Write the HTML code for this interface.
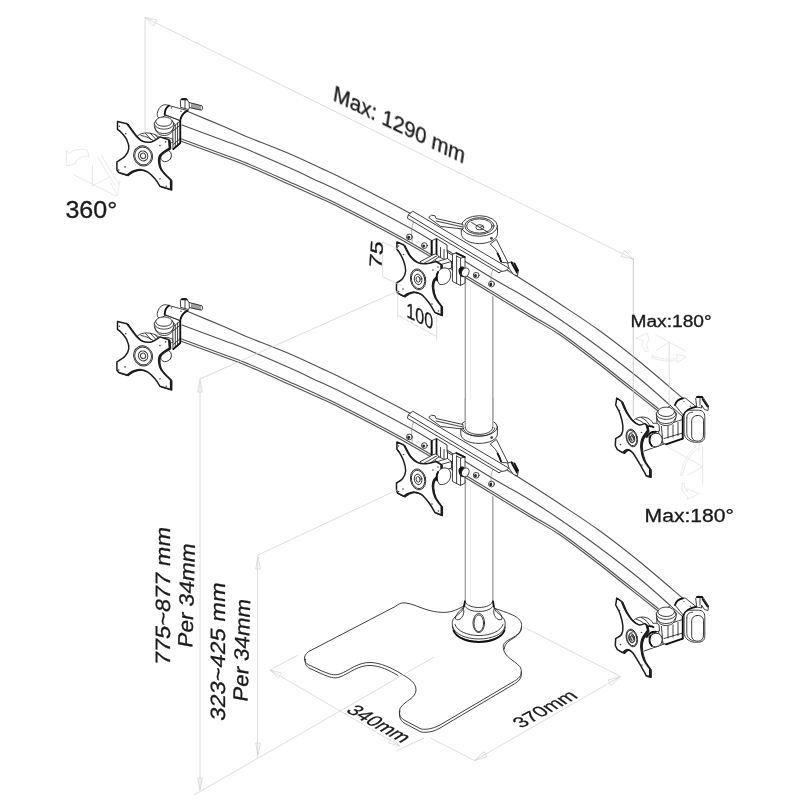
<!DOCTYPE html>
<html><head><meta charset="utf-8">
<style>
html,body{margin:0;padding:0;background:#fff;}
svg{display:block;}
text{font-family:"Liberation Sans",sans-serif;fill:#1a1a1a;stroke:#1a1a1a;stroke-width:0.3;}
.d{stroke:#d6d6d6;stroke-width:0.8;fill:none;}
.m{stroke:#2a2a2a;stroke-width:0.9;fill:none;stroke-linecap:round;stroke-linejoin:round;}
.mw{stroke:#2a2a2a;stroke-width:0.9;fill:#fff;stroke-linecap:round;stroke-linejoin:round;}
.a{stroke:#505050;stroke-width:1.1;}
.k{stroke:#111;stroke-width:1.8;fill:none;stroke-linecap:round;stroke-linejoin:round;}
.i{stroke:#e4e4e4;stroke-width:0.8;fill:none;stroke-linejoin:round;}
.g{stroke:#8a8a8a;stroke-width:0.7;fill:none;}
</style></head><body>
<svg width="800" height="800" viewBox="0 0 800 800">
<rect width="800" height="800" fill="#fff"/>
<!--DIMS-->

<!--BASE-->
<g id="base">
<path class="mw" stroke="#606060" stroke-width="1.05" d="M395.5 606.3 C398.5 604 400.5 602.8 404 602.9 C412 603.2 420 608 428 610 C436 612.5 446 613.2 452 611.3 C457 609.8 460 608 464 606 L495 608.5 C501 610.5 507 612.5 511 614.3 C516 616.3 520 619 521.3 623 C522.2 627 521 631 518 634 C515 636.8 511 638.5 507.5 640.5 C504.5 642.5 503 644.5 503.3 647.5 C503.5 651 505 653.5 507.5 656.3 C511.5 660.3 517 663 520 666.8 C522 670 521.8 674 519.5 677 C518 679 516 680 512 682.5 L440 725 C434 728 428 730 421 729 L404 720 C399 717 398 711 401 707 C405 701 416 698 416 690 C416 682 408 678 400 673 C390 667 380 663 371 662.5 C358 662 350 670 340 674 C334 676 329 674 322 671 L309 665 C303 662 303 656 308 652 Z"/>
<path class="m" stroke="#606060" stroke-width="1.0" d="M305.5 659 C304.5 664 306 666.5 310 668.5 L322 674 C329 677 334 679 340 677 C350 673 358 665 371 665.5 C380 666 389 670 398 675.5"/>
<path class="m" stroke="#606060" stroke-width="1.0" d="M400 711 C398.5 716 400 720 404 723 L421 732 C428 733 434 731.5 440 728 L512 685.3 C518 682 522.3 679 521.3 672"/>
<path class="m" stroke="#606060" stroke-width="1.0" d="M521.5 627 C521.5 634 515 637 509 641 C506 643 504.5 646 504.3 649"/>
</g>
<!--POLE-->
<g id="pole">
<path d="M465.3 279V420M465.3 480V601" stroke="#999" stroke-width="1.2" fill="none"/><path d="M492.8 296V420M492.8 496V601" stroke="#a8a8a8" stroke-width="1.5" fill="none"/>
<path d="M470.3 284V420M470.3 484V600" stroke="#ececec" stroke-width="0.8" fill="none"/>
<!-- foot -->
<path d="M464 606 C463 612 458 614 455 617 C452 620 452 623 452.5 626 C454 634 466 639 479 639 C492 639 504 634 505 626 C505.5 622 505 619.5 502 616.5 C499 613.5 494.5 612 493.8 606 L493 600 L465 600 Z" fill="#fff" stroke="none"/><path class="m" d="M465 601 L464 606 C463 612 458 614 455 617 C452 620 452 623 452.5 626 C454 634 466 639 479 639 C492 639 504 634 505 626 C505.5 622 505 619.5 502 616.5 C499 613.5 494.5 612 493.8 606 L493 601"/><path class="k" d="M465 601.5 L464 606.5 M493 601.5 L493.8 606.5" stroke-width="1.5"/>
<path class="m" d="M452.4 627 C453.5 636 466 641.5 479 641.5 C492 641.5 504.5 636 505.4 627"/>
<path class="k" d="M453.5 630.5 C456 637.5 467 642 479 642 C491 642 502 637.5 504.5 630.5" stroke-width="1.4"/>
<path class="m" d="M455 624.5 C457 631 467 635.5 479 635.5 C491 635.5 501 631 503 624.5"/>
<path class="m" d="M465 601 C465 604.5 471 607.5 478.8 607.5 C486.5 607.5 492.6 604.5 492.6 601" stroke-width="1.3"/>
<path class="m" d="M465.5 607 C468 610 473 611.5 478.8 611.5 C484.5 611.5 490 610 492.5 607"/>
<ellipse class="m" cx="478.8" cy="623" rx="5.8" ry="9.6"/>
<ellipse class="m" cx="478.8" cy="623.3" rx="4.8" ry="8.4"/>
<path class="m" d="M463 608 C459 611 455 615.5 455.5 619 C458 621 462 619 463.5 614 C464 612 464 610 463 608Z"/>
<path class="m" d="M494.5 608 C498.5 611 502.5 615.5 502 619 C499.5 621 495.5 619 494 614 C493.5 612 493.5 610 494.5 608Z"/>
</g>

<g id="topcap">
<path class="mw" d="M461.3 226 V233.5 C461.3 239 469.5 243.6 479.4 243.6 C489.3 243.6 497.5 239 497.5 233.5 V226Z"/>
<ellipse class="mw" cx="479.4" cy="226" rx="18.1" ry="10.3"/>
<ellipse class="m" cx="479.4" cy="226" rx="14.6" ry="8.3" stroke-width="1.5"/>
<ellipse class="m" cx="479.4" cy="226" rx="12.8" ry="7.1" stroke-width="0.7"/>
<ellipse class="m" cx="479.8" cy="227.3" rx="3.9" ry="2.6"/>
<path class="m" d="M471.5 222.5 L487.5 232 M480 227.3 L483 226"/>
<circle cx="491.5" cy="238.3" r="1.4" fill="#444"/>
</g>

<g id="collar">
<path class="mw" d="M460.8 427 V434 C460.8 439.5 469 443.4 479 443.4 C489 443.4 497.4 439.5 497.4 434 V427Z"/>
<ellipse class="mw" cx="479.1" cy="427" rx="18.3" ry="9.2"/>
<path d="M465 400 H492.9 V428 C492.9 431.5 487 434.3 479 434.3 C471 434.3 465 431.5 465 428Z" fill="#fff" stroke="none"/>
<path d="M465.3 398V428" stroke="#999" stroke-width="1.2" fill="none"/><path d="M492.8 398V428" stroke="#a8a8a8" stroke-width="1.5" fill="none"/>
<path class="m" d="M465.2 427.5 C465.2 431.3 471.3 434.4 479 434.4 C486.7 434.4 492.7 431.3 492.7 427.5"/>
<path class="m" d="M463.2 428 C463.8 432.6 470.5 436.2 479 436.2 C487.5 436.2 494.2 432.6 494.8 428" stroke-width="0.7"/>
<circle cx="491.7" cy="437.6" r="1.4" fill="#444"/>
</g>

<defs><g id="asm">

<!-- struts behind bar -->
<path class="mw" d="M429 217.2 L431.5 215.2 L435 215.8 L436 218.5 L463 224.5 L463 229 L441 226.5Z"/>
<path class="m" d="M436 221 L462 226.8"/>
<path class="mw" d="M490.6 243.8 L496.3 239.4 L508.2 263 L501.3 262.2 C500 258 498 253 495.5 249.5Z"/>
<path class="k" d="M497.6 253.5 C499 256 500.2 258.8 501 261.5" stroke-width="1.6"/>

<path d="M187.80 111.60 C194.00 114.17 215.47 122.95 225.00 127.00 C234.53 131.05 234.17 131.40 245.00 135.90 C255.83 140.40 277.50 148.68 290.00 154.00 C302.50 159.32 310.62 163.42 320.00 167.80 C329.38 172.18 331.57 172.90 346.25 180.30 C360.93 187.70 389.14 202.00 408.10 212.20 C427.06 222.40 441.52 230.62 460.00 241.50 C478.48 252.38 502.33 267.08 519.00 277.50 C535.67 287.92 546.50 295.08 560.00 304.00 C573.50 312.92 586.67 321.33 600.00 331.00 C613.33 340.67 626.18 350.77 640.00 362.00 C653.82 373.23 675.75 392.33 682.90 398.40 L657.80 410.80 L621.70 382.30 L599.70 364.80 L559.70 334.80 L529.70 316.80 L479.70 286.30 L409.70 244.50 L345.95 210.70 L319.70 198.00 L289.70 184.50 L244.70 164.70 L224.70 157.30 L181.20 141.30Z" fill="#fff" stroke="none"/>
<path class="m a" d="M187.80 111.60 C194.00 114.17 215.47 122.95 225.00 127.00 C234.53 131.05 234.17 131.40 245.00 135.90 C255.83 140.40 277.50 148.68 290.00 154.00 C302.50 159.32 310.62 163.42 320.00 167.80 C329.38 172.18 331.57 172.90 346.25 180.30 C360.93 187.70 389.14 202.00 408.10 212.20 C427.06 222.40 441.52 230.62 460.00 241.50 C478.48 252.38 502.33 267.08 519.00 277.50 C535.67 287.92 546.50 295.08 560.00 304.00 C573.50 312.92 586.67 321.33 600.00 331.00 C613.33 340.67 626.18 350.77 640.00 362.00 C653.82 373.23 675.75 392.33 682.90 398.40"/>
<path class="m a" d="M182.00 125.00 C189.17 127.67 214.50 137.07 225.00 141.00 C235.50 144.93 234.17 144.08 245.00 148.60 C255.83 153.12 277.50 162.52 290.00 168.10 C302.50 173.68 310.62 177.72 320.00 182.10 C329.38 186.48 330.93 186.58 346.25 194.40 C361.57 202.22 394.61 219.40 411.90 229.00 C429.19 238.60 436.65 243.83 450.00 252.00 C463.35 260.17 478.67 270.00 492.00 278.00 C505.33 286.00 518.67 293.08 530.00 300.00 C541.33 306.92 548.33 311.50 560.00 319.50 C571.67 327.50 586.67 338.08 600.00 348.00 C613.33 357.92 628.25 369.38 640.00 379.00 C651.75 388.62 665.42 401.25 670.50 405.70"/>
<path class="m a" d="M181.50 139.00 C188.75 141.67 214.42 151.10 225.00 155.00 C235.58 158.90 234.17 157.87 245.00 162.40 C255.83 166.93 277.50 176.65 290.00 182.20 C302.50 187.75 310.62 191.33 320.00 195.70 C329.38 200.07 331.25 200.65 346.25 208.40 C361.25 216.15 387.71 229.60 410.00 242.20 C432.29 254.80 460.00 271.95 480.00 284.00 C500.00 296.05 516.67 306.42 530.00 314.50 C543.33 322.58 548.33 324.50 560.00 332.50 C571.67 340.50 589.67 354.58 600.00 362.50 C610.33 370.42 612.32 372.33 622.00 380.00 C631.68 387.67 652.08 403.75 658.10 408.50"/>
<path class="m a" d="M181.20 141.30 C188.45 143.97 214.12 153.40 224.70 157.30 C235.28 161.20 233.87 160.17 244.70 164.70 C255.53 169.23 277.20 178.95 289.70 184.50 C302.20 190.05 310.32 193.63 319.70 198.00 C329.07 202.37 330.95 202.95 345.95 210.70 C360.95 218.45 387.41 231.90 409.70 244.50 C431.99 257.10 459.70 274.25 479.70 286.30 C499.70 298.35 516.37 308.72 529.70 316.80 C543.03 324.88 548.03 326.80 559.70 334.80 C571.37 342.80 589.37 356.88 599.70 364.80 C610.03 372.72 612.02 374.63 621.70 382.30 C631.38 389.97 651.78 406.05 657.80 410.80"/>

<!-- left joint -->
<path class="mw" d="M168 105.2 C163.5 103.2 158.5 106.5 157.2 113.5 C157 116 158 118 160 119 L170 112Z"/>
<path class="mw" d="M173 127 L180.3 120.8 L180.3 143 L173.3 149.2Z"/>
<path class="m" stroke="#666" stroke-width="0.7" d="M175.3 125 V147.4 M177.6 123 V145.4 M173 131 L180.3 125 M173.2 144.5 L180.3 138.5"/>
<path class="k" d="M180.3 120.8 V143 L173.3 149.2" stroke-width="1.5"/>
<path class="mw" d="M154.3 124 C154.3 131 158 135.5 164.2 135.5 C170.5 135.5 174 131 174 124Z"/>
<path class="m" d="M154.8 127.5 C156 132 159.5 133.5 164.2 133.5 C169 133.5 172.5 131.5 173.6 127.5"/>
<ellipse class="mw" cx="164.1" cy="123.6" rx="9.8" ry="5.6"/>
<ellipse class="mw" cx="164" cy="121.6" rx="8.3" ry="4.7" stroke-width="1.2"/>
<path class="mw" d="M169 105.6 L187.6 110.6 C183.5 112.5 181 116 180.2 120.7 L164.6 114.6 C164.8 110.5 166.5 107.2 169 105.6Z"/>
<path class="k" d="M169 105.6 C166.5 107.2 164.8 110.5 164.6 114.6" stroke-width="1.5"/>
<path class="k" d="M187.6 110.6 C183.5 112.5 181 116 180.2 120.7" stroke-width="1.6"/>
<path class="m" d="M164.6 114.6 L180.2 120.7"/>
<circle cx="171.5" cy="107.9" r="0.7" fill="#333"/><circle cx="181" cy="111.3" r="0.7" fill="#333"/>
<!-- clip -->
<path class="mw" d="M180.7 100 L182 98.5 L186.5 98.7 L189 102.5 L202 105.8 C203 107 202.7 109 201.5 110.2 L189.5 107.6 L188.5 109.5 L181 107.4Z" stroke-width="1.0"/>
<path class="k" d="M181.6 99.3 L186.6 99.4" stroke-width="1.8"/>
<path class="m" d="M185 99.5 L185 108.3 M189 102.5 L189.3 107.5 M192 103.5 L192 108.2 M194 104 L194 108.7 M196 104.5 L196 109.1 M198 105 L198 109.5 M200 105.5 L200 109.9" stroke-width="0.7"/>
<!-- yoke to plate -->
<path class="mw" d="M137.5 136 C140.5 133.2 145 132.5 150 133.2 C155 134 158 136 160.5 138.5 C164 137 168 137.2 172.5 139 L173 142 C168 144.5 163 145.5 159 148 L146 146Z" stroke="#161616" stroke-width="1.8"/>
<path class="m" d="M141 135.5 C146 136.2 151 138.5 155 142 M145.5 133.5 L151 139.5 M150.5 133.5 L156 139.5 M155.5 135 L160 140.5" stroke-width="0.8"/>
<!-- knob -->
<ellipse class="mw" cx="166" cy="156" rx="5.2" ry="6" transform="rotate(35 166 156)" stroke-width="1.2"/>

<path d="M117.50 129.40 L117.50 121.50 L126.90 123.75 C128.46 125.83 133.65 133.33 136.25 136.25 C138.85 139.17 140.00 140.31 142.50 141.25 C145.00 142.19 148.33 142.62 151.25 141.90 C154.17 141.18 158.54 137.73 160.00 136.90 L168.75 139.75 L169.40 148.10 C167.83 149.25 161.78 152.60 160.00 155.00 C158.22 157.40 158.54 160.00 158.75 162.50 C158.96 165.00 159.28 167.08 161.25 170.00 C163.22 172.92 169.04 178.33 170.60 180.00 L170.60 189.40 L160.00 186.25 C159.17 185.00 157.08 181.14 155.00 178.75 C152.92 176.36 150.00 173.46 147.50 171.90 C145.00 170.34 142.50 169.51 140.00 169.40 C137.50 169.29 134.68 170.32 132.50 171.25 C130.32 172.18 127.83 174.38 126.90 175.00 L118.75 172.50 L116.90 170.00 L116.90 161.90 C118.25 160.96 123.03 158.44 125.00 156.25 C126.97 154.06 128.43 151.46 128.75 148.75 C129.07 146.04 128.15 142.71 126.90 140.00 C125.65 137.29 122.82 134.27 121.25 132.50 C119.68 130.73 118.12 129.92 117.50 129.40Z" transform="translate(1.30 0.70)" fill="#1c1c1c" stroke="#1c1c1c" stroke-width="1.1" stroke-linejoin="round"/>
<path d="M117.50 129.40 L117.50 121.50 L126.90 123.75 C128.46 125.83 133.65 133.33 136.25 136.25 C138.85 139.17 140.00 140.31 142.50 141.25 C145.00 142.19 148.33 142.62 151.25 141.90 C154.17 141.18 158.54 137.73 160.00 136.90 L168.75 139.75 L169.40 148.10 C167.83 149.25 161.78 152.60 160.00 155.00 C158.22 157.40 158.54 160.00 158.75 162.50 C158.96 165.00 159.28 167.08 161.25 170.00 C163.22 172.92 169.04 178.33 170.60 180.00 L170.60 189.40 L160.00 186.25 C159.17 185.00 157.08 181.14 155.00 178.75 C152.92 176.36 150.00 173.46 147.50 171.90 C145.00 170.34 142.50 169.51 140.00 169.40 C137.50 169.29 134.68 170.32 132.50 171.25 C130.32 172.18 127.83 174.38 126.90 175.00 L118.75 172.50 L116.90 170.00 L116.90 161.90 C118.25 160.96 123.03 158.44 125.00 156.25 C126.97 154.06 128.43 151.46 128.75 148.75 C129.07 146.04 128.15 142.71 126.90 140.00 C125.65 137.29 122.82 134.27 121.25 132.50 C119.68 130.73 118.12 129.92 117.50 129.40Z" fill="#fff" stroke="#1c1c1c" stroke-width="1.5" stroke-linejoin="round"/>
<circle cx="119.40" cy="126.25" r="0.8" fill="#444"/>
<circle cx="125.60" cy="133.75" r="0.8" fill="#444"/>
<circle cx="160.00" cy="145.60" r="0.8" fill="#444"/>
<circle cx="165.60" cy="141.90" r="0.8" fill="#444"/>
<circle cx="125.00" cy="166.90" r="0.8" fill="#444"/>
<circle cx="118.75" cy="170.00" r="0.8" fill="#444"/>
<circle cx="160.00" cy="178.75" r="0.8" fill="#444"/>
<circle cx="166.25" cy="186.25" r="0.8" fill="#444"/>
<ellipse cx="143.10" cy="155.90" rx="9.40" ry="10.20" transform="rotate(-25.0 143.10 155.90)" class="m" stroke="#4a4a4a" stroke-width="0.8"/>
<ellipse cx="143.10" cy="155.90" rx="8.27" ry="8.98" transform="rotate(-25.0 143.10 155.90)" class="m" stroke="#4a4a4a" stroke-width="0.5"/>
<ellipse cx="143.10" cy="155.90" rx="4.70" ry="5.10" transform="rotate(-25.0 143.10 155.90)" class="m" stroke="#4a4a4a" stroke-width="0.7"/>
<ellipse cx="143.10" cy="155.90" rx="2.54" ry="2.75" transform="rotate(-25.0 143.10 155.90)" class="m" stroke="#4a4a4a" stroke-width="0.6"/>

<!-- sleeve edges + screws -->
<path class="g" d="M414 221.5 C411.5 226 411 232 412.3 242.5" stroke="#777"/>
<path class="g" d="M493.7 268.7 C491 272 490.4 277 491.5 286" stroke="#777"/>
<g class="m" stroke-width="0.8"><circle cx="409.4" cy="236.9" r="2.9"/><circle cx="424.4" cy="245.6" r="2.9"/><circle cx="476.2" cy="275.3" r="2.9"/><circle cx="491.5" cy="284" r="2.9"/></g>
<g fill="#222"><ellipse cx="408.7" cy="237.3" rx="1.4" ry="1.6"/><ellipse cx="423.7" cy="246" rx="1.4" ry="1.6"/><ellipse cx="475.5" cy="275.7" rx="1.4" ry="1.6"/><ellipse cx="490.8" cy="284.4" rx="1.4" ry="1.6"/></g>
<!-- top bar -->
<path class="mw" d="M413.1 211.4 L508.6 268 C507.5 270 505 271.6 501.5 271.3 L499 272.8 L407.4 218.2 L408.3 214.9Z"/>
<path class="m" d="M408.3 214.9 L501.5 271.3"/>
<!-- hook at right end -->
<path class="mw" d="M508 263.2 L511.5 261.8 L514.5 263.5 L518.3 270.5 L517.5 276 L513.5 274.5 L509.5 269Z" stroke-width="1.3"/>
<path class="k" d="M511.5 262.5 L517 272.5 M514.5 263.5 L518 270.5" stroke-width="1.3"/>
<!-- clamp block -->
<path class="mw" d="M431.5 240.8 L436.5 238.5 L447 245 L447 252 L456.5 257.5 L452.5 260 L452.5 264 L437.5 262.5 L431.5 257Z"/>
<path class="k" d="M436.5 239.5 L436.5 255.5 M431.8 241 L431.8 256.5" stroke-width="1.2"/>
<path class="m" d="M440.5 247.5 V257 M444 249.5 V258.5 M447.5 252 V260.5 M436.5 255.5 L447 261"/>
<!-- U link to plate -->
<path class="mw" d="M420.5 261.5 L434 254.3 C436.5 253.6 438.5 255 439 257 L426 265.8 C423.5 266.8 421 265 420.5 261.5Z" stroke="#161616" stroke-width="1.5"/>
<path class="m" d="M423.5 263.5 L437 255.8"/>
<path class="mw" d="M437.5 261.5 L447.5 258.5 L451.5 261.5 L451.5 268 L441 271Z"/>
<path class="m" d="M441 264.5 L451.5 261.5"/>
<!-- clamp bracket -->
<path class="mw" d="M452.8 254.2 L456.2 252.6 L465 256.8 L465 283 L460.5 285.5 L452.8 281.5Z" stroke-width="1.2"/>
<path class="m" d="M456.6 256 V283.5 M460.6 258.2 V285.3 M456.6 256 L460.6 258.2 L465 256.8"/>
<path class="k" d="M456.4 253.2 L464.6 257" stroke-width="1.5"/>
<!-- knob -->
<path d="M459 270.5 C459 267.5 461.5 266 464 267.5 L464 276.5 C461.5 277.5 459 274.5 459 270.5Z" fill="#111" stroke="#111" stroke-width="1"/>
<ellipse class="mw" cx="465.3" cy="272.3" rx="3.6" ry="4.6" transform="rotate(25 465.3 272.3)" stroke-width="1.1"/>

<path d="M396.90 249.40 L396.90 241.90 L403.75 245.00 C404.79 246.88 407.71 253.33 410.00 256.25 C412.29 259.17 414.79 261.25 417.50 262.50 C420.21 263.75 423.17 263.92 426.25 263.75 C429.33 263.58 434.38 261.88 436.00 261.50 L441.00 264.50 L441.00 273.50 C439.79 274.58 435.17 277.67 433.75 280.00 C432.33 282.33 432.29 284.58 432.50 287.50 C432.71 290.42 433.54 294.38 435.00 297.50 C436.46 300.62 440.21 304.79 441.25 306.25 L441.25 315.00 L435.00 312.50 C433.96 310.83 431.04 305.52 428.75 302.50 C426.46 299.48 423.75 296.17 421.25 294.40 C418.75 292.63 416.04 292.01 413.75 291.90 C411.46 291.79 409.17 293.02 407.50 293.75 C405.83 294.48 404.38 295.83 403.75 296.25 L397.50 293.00 L396.50 290.00 L396.50 283.00 C397.50 282.29 400.98 280.71 402.50 278.75 C404.02 276.79 405.39 274.17 405.60 271.25 C405.81 268.33 404.78 264.38 403.75 261.25 C402.72 258.12 400.54 254.47 399.40 252.50 C398.26 250.53 397.32 249.92 396.90 249.40Z" transform="translate(1.30 0.70)" fill="#1c1c1c" stroke="#1c1c1c" stroke-width="1.1" stroke-linejoin="round"/>
<path d="M396.90 249.40 L396.90 241.90 L403.75 245.00 C404.79 246.88 407.71 253.33 410.00 256.25 C412.29 259.17 414.79 261.25 417.50 262.50 C420.21 263.75 423.17 263.92 426.25 263.75 C429.33 263.58 434.38 261.88 436.00 261.50 L441.00 264.50 L441.00 273.50 C439.79 274.58 435.17 277.67 433.75 280.00 C432.33 282.33 432.29 284.58 432.50 287.50 C432.71 290.42 433.54 294.38 435.00 297.50 C436.46 300.62 440.21 304.79 441.25 306.25 L441.25 315.00 L435.00 312.50 C433.96 310.83 431.04 305.52 428.75 302.50 C426.46 299.48 423.75 296.17 421.25 294.40 C418.75 292.63 416.04 292.01 413.75 291.90 C411.46 291.79 409.17 293.02 407.50 293.75 C405.83 294.48 404.38 295.83 403.75 296.25 L397.50 293.00 L396.50 290.00 L396.50 283.00 C397.50 282.29 400.98 280.71 402.50 278.75 C404.02 276.79 405.39 274.17 405.60 271.25 C405.81 268.33 404.78 264.38 403.75 261.25 C402.72 258.12 400.54 254.47 399.40 252.50 C398.26 250.53 397.32 249.92 396.90 249.40Z" fill="#fff" stroke="#1c1c1c" stroke-width="1.5" stroke-linejoin="round"/>
<circle cx="398.60" cy="246.00" r="0.8" fill="#444"/>
<circle cx="403.50" cy="254.50" r="0.8" fill="#444"/>
<circle cx="433.00" cy="270.00" r="0.8" fill="#444"/>
<circle cx="438.00" cy="267.00" r="0.8" fill="#444"/>
<circle cx="403.00" cy="289.00" r="0.8" fill="#444"/>
<circle cx="398.60" cy="291.50" r="0.8" fill="#444"/>
<circle cx="432.00" cy="304.00" r="0.8" fill="#444"/>
<circle cx="438.50" cy="311.00" r="0.8" fill="#444"/>
<ellipse cx="418.10" cy="279.40" rx="7.50" ry="10.60" transform="rotate(-12.0 418.10 279.40)" class="m" stroke="#4a4a4a" stroke-width="0.8"/>
<ellipse cx="418.10" cy="279.40" rx="6.60" ry="9.33" transform="rotate(-12.0 418.10 279.40)" class="m" stroke="#4a4a4a" stroke-width="0.5"/>
<ellipse cx="418.10" cy="279.40" rx="3.75" ry="5.30" transform="rotate(-12.0 418.10 279.40)" class="m" stroke="#4a4a4a" stroke-width="0.7"/>
<ellipse cx="418.10" cy="279.40" rx="2.03" ry="2.86" transform="rotate(-12.0 418.10 279.40)" class="m" stroke="#4a4a4a" stroke-width="0.6"/>
<!-- ball -->
<path class="mw" d="M437 280 C435.5 274 439 268.5 444 268 C449 267.5 451.5 271.5 450.5 277 C449.5 282 445 285.5 440 284.5Z" stroke-width="1.1" stroke="#333"/>
<path class="k" d="M437.2 280.5 C436.2 277.5 436.6 274.5 438 272" stroke-width="1.5"/>


<!-- right joint -->
<!-- block under pivot -->
<path class="mw" d="M657 414 L670.5 405.7 L682.7 416.6 L682.7 438.6 L666 444.3 L661 442.5 L657 425Z"/>
<path class="m" stroke="#666" stroke-width="0.7" d="M668 426 V438 M673 425 V437 M678 422.5 V435.5 M661.5 426.5 L662.8 442.8 M664 438.5 L682.7 433 M664 425.5 L682.7 419.5"/>
<path class="k" d="M682.7 416.6 V438.6" stroke-width="1.5"/><path class="k" d="M682.7 438.6 L666 444.3" stroke-width="1.1"/>
<!-- pivot cylinder -->
<path class="mw" d="M656.3 414 C656.3 421 659.5 425.5 666.2 425.5 C673 425.5 676.3 421 676.3 414Z"/>
<path class="m" d="M656.8 418 C658 422 661.5 423.5 666.2 423.5 C671 423.5 674.5 421.5 675.6 418"/>
<ellipse class="mw" cx="666.2" cy="413.8" rx="9.9" ry="5.6"/>
<ellipse class="mw" cx="666.2" cy="411.8" rx="8.4" ry="4.7" stroke-width="1.2"/>
<!-- arm end sleeve -->
<path class="mw" d="M682.9 398.4 L685.1 398 L696.4 406.8 C690.5 407.5 685.5 410.5 683.5 415.4 L675 405.1 C676 401.5 679 399 682.9 398.4Z"/>
<path class="k" d="M682.9 398.4 C679 399 676 401.5 675 405.1" stroke-width="1.4"/>
<path class="k" d="M696.4 406.8 C690.5 407.5 685.5 410.5 683.5 415.4" stroke-width="1.6"/>
<circle cx="684" cy="401.6" r="0.7" fill="#333"/><circle cx="690.2" cy="406.2" r="0.7" fill="#333"/>
<!-- clip -->
<path class="mw" d="M696 398 L697.5 396.3 L702.5 396.5 L708.5 406 L708 410.5 L704.5 409.5 L701.5 405 L701.5 408 L697 407Z" stroke-width="1.1"/>
<path class="k" d="M697 397 L702.3 397.2" stroke-width="1.8"/>
<path class="k" d="M702.5 399 L707.5 406.5" stroke-width="1.4"/>
<path class="m" d="M700 397.5 V405"/>
<!-- end cap -->
<path class="mw" d="M684.1 416.5 C684.1 412.5 687 410.2 691 410.2 L698.5 410.2 C702.5 410.2 704.8 412.8 704.8 416.5 L704.8 436 C704.8 440 702.3 442.2 698.5 442.2 L693.5 442.2 C688 441 684.1 437.5 684.1 433Z" stroke-width="1.2"/>
<rect class="m" x="691.7" y="415.5" width="11.8" height="25.6" rx="5.2" ry="5.2"/>
<path class="m" d="M686.8 418 C686.8 414 689 412.2 692.5 412.2 M686.8 418 V433.5 C687 437.5 690 440 693.8 441"/>
<!-- yoke -->
<path class="mw" d="M633.5 420.5 C636 417.5 640.5 416.5 645 417.3 C649 418 651.5 420.5 653.2 423.5 C655.5 422.8 657.5 423.3 659 424.8 L659.5 431 C655 431.5 651 434 648 437.5 L641 430 C639.5 426 637 423.5 633.5 420.5Z" stroke-width="1.3"/>
<path class="m" d="M636.5 419.5 C640.5 420.3 644.5 423 647 427.5 M641.5 417.5 C645.5 419.5 648.5 422.5 650.5 427"/>
<path class="k" d="M645.5 428.5 C647.5 426 651 425.3 653.5 427.2 M646.5 437 C648.5 433.5 652 431.5 656 431.8" stroke-width="1.3"/>
<path class="m" d="M644.2 451 L664.1 444.1"/>
<!-- knob -->
<ellipse class="mw" cx="655.9" cy="440" rx="6.3" ry="6.9" transform="rotate(20 655.9 440)" stroke-width="1.2"/>
<path class="k" d="M650.3 436 C649 439.5 649.6 443.5 651.8 446" stroke-width="1.6"/>

<path d="M615.70 405.00 L616.70 398.10 L621.50 401.50 C622.18 403.08 623.77 407.78 625.60 411.00 C627.43 414.22 630.20 418.48 632.50 420.80 C634.80 423.12 637.33 424.45 639.40 424.90 C641.47 425.35 643.98 423.73 644.90 423.50 L646.30 424.90 L647.60 430.40 C646.68 431.77 643.23 435.85 642.10 438.60 C640.97 441.35 640.57 443.45 640.80 446.90 C641.03 450.35 642.02 455.63 643.50 459.30 C644.98 462.97 648.67 467.30 649.70 468.90 L649.70 476.50 L646.30 475.80 C645.15 473.73 641.70 467.30 639.40 463.40 C637.10 459.50 634.57 454.70 632.50 452.40 C630.43 450.10 628.60 449.57 627.00 449.60 C625.40 449.63 623.58 452.10 622.90 452.60 L617.40 449.60 L615.30 445.50 L615.70 438.60 C616.67 437.92 620.30 436.55 621.50 434.50 C622.70 432.45 623.13 429.73 622.90 426.30 C622.67 422.87 621.30 417.45 620.10 413.90 C618.90 410.35 616.43 406.48 615.70 405.00Z" transform="translate(1.50 0.90)" fill="#1c1c1c" stroke="#1c1c1c" stroke-width="1.1" stroke-linejoin="round"/>
<path d="M615.70 405.00 L616.70 398.10 L621.50 401.50 C622.18 403.08 623.77 407.78 625.60 411.00 C627.43 414.22 630.20 418.48 632.50 420.80 C634.80 423.12 637.33 424.45 639.40 424.90 C641.47 425.35 643.98 423.73 644.90 423.50 L646.30 424.90 L647.60 430.40 C646.68 431.77 643.23 435.85 642.10 438.60 C640.97 441.35 640.57 443.45 640.80 446.90 C641.03 450.35 642.02 455.63 643.50 459.30 C644.98 462.97 648.67 467.30 649.70 468.90 L649.70 476.50 L646.30 475.80 C645.15 473.73 641.70 467.30 639.40 463.40 C637.10 459.50 634.57 454.70 632.50 452.40 C630.43 450.10 628.60 449.57 627.00 449.60 C625.40 449.63 623.58 452.10 622.90 452.60 L617.40 449.60 L615.30 445.50 L615.70 438.60 C616.67 437.92 620.30 436.55 621.50 434.50 C622.70 432.45 623.13 429.73 622.90 426.30 C622.67 422.87 621.30 417.45 620.10 413.90 C618.90 410.35 616.43 406.48 615.70 405.00Z" fill="#fff" stroke="#1c1c1c" stroke-width="1.5" stroke-linejoin="round"/>
<circle cx="619.50" cy="410.50" r="0.8" fill="#444"/>
<circle cx="641.50" cy="432.50" r="0.8" fill="#444"/>
<circle cx="620.50" cy="444.50" r="0.8" fill="#444"/>
<circle cx="642.00" cy="465.00" r="0.8" fill="#444"/>
<ellipse cx="631.80" cy="438.00" rx="5.50" ry="9.00" transform="rotate(-14.0 631.80 438.00)" class="m" stroke="#4a4a4a" stroke-width="0.8"/>
<ellipse cx="631.80" cy="438.00" rx="4.84" ry="7.92" transform="rotate(-14.0 631.80 438.00)" class="m" stroke="#4a4a4a" stroke-width="0.5"/>
<ellipse cx="631.80" cy="438.00" rx="2.75" ry="4.50" transform="rotate(-14.0 631.80 438.00)" class="m" stroke="#4a4a4a" stroke-width="0.7"/>
<ellipse cx="631.80" cy="438.00" rx="1.49" ry="2.43" transform="rotate(-14.0 631.80 438.00)" class="m" stroke="#4a4a4a" stroke-width="0.6"/>
<path class="m" stroke="#333" stroke-width="0.9" d="M631.5 439.5 C630 437.5 631 435 632.8 435.2 C634.8 435.5 635.2 439.5 633.5 441.8 C631.8 444 629.2 442 628.8 438.5 C628.4 434.5 630.5 431.5 632.8 432"/>
</g></defs>
<use href="#asm"/>
<use href="#asm" y="200"/>
<!--TOPCAP-->
<g class="d" id="dims">
<path d="M145 17V132.5M145 17.5L633.3 259"/><path d="M633.3 258V416" stroke="#bcbcbc"/>
<path d="M200 378V791.5M257.6 555V758.5"/>
<path d="M200 379L398 291M258 555L397 490"/>
<path d="M194 795L434 657"/>
<path d="M270 670L298 655M270 670L400 746M396 751L424 738"/>
<path d="M430.4 738L474.5 760.5M474.5 760.5L620.5 676.5M521.5 626L620.5 676.5"/>
<path d="M382.7 241.5V276.7M382.7 242.2L398.5 249M382.7 276.7L401.5 285.7M397.7 292.5V317.5M436.7 315V340.5M397.7 315L436.7 336.7M669.2 342V406"/>
<path d="M145 17.5L157 20L153.5 26Z M633 259L621 256.5L624.5 250.5Z"/>
<path d="M200 380L197.7 392H202.3Z M200 790L197.7 778H202.3Z M258 557L255.7 569H260.3Z M258 755L255.7 743H260.3Z"/>
<path d="M270 670L281.5 673L278.5 678Z M400 746L388.5 743L391.5 738Z M474.5 760.5L484 751.5L487 756.8Z M620.5 676.5L611 685.2L608 680Z"/>
</g>
<g class="i" id="icons">
<!-- left 360 icon -->
<path d="M66.3 150.5 L66.3 166 L75 164 C77 158 82 155.5 89 156.5 L87.3 150 C80 148.5 73 149.5 69.5 153.5Z"/>
<path d="M92.5 165V186M92.5 186L110 176.5M73.3 174.6L117 196.5"/>
<path d="M97.8 157.1L115 186 M101.5 155.5L119 184.5 M110.5 182.5L117.5 196 L119.8 181"/>
<!-- upper right icon -->
<path d="M635.7 338.1L647.5 333.3L648.8 339.9 C646 343 646.5 347.5 648.8 350.8 L645.7 352.1 C642 348 641.5 344 643.5 340.5Z"/>
<path d="M655.4 334.6L686 351.2M669.2 342.2L656.2 350.4"/>
<path d="M651.9 355.5 C660 359 670 360 677.5 358.5 L676.5 354.5 L686.4 356.5 L677.5 362.5 L677.8 360.5 C669 362 659 360.5 651.9 357.5Z"/>
<!-- lower right icon -->
<path d="M702.6 445V485.5M702.6 466.8L665.7 445.7M702.6 466.8L687.7 475"/>
<path d="M680.4 475 C683 462 689 452 696 446.5 L693.5 444.5 L699.5 443.5 L698.5 450.5 L697 448.5 C690.5 454 685 463 682.4 475.6Z"/>
<path d="M682 483 C681 489 683.5 494 688 496.5 L687.3 499.5 L699 493.6 L686.9 488.7 L687.3 492 C685 490.5 684 487.5 684.6 483.5Z"/>
</g>
<!--TEXT-->
<g id="txt" style="opacity:0.999">
<text transform="matrix(0.8996 0.4368 -0.1564 0.9877 332.50 100.00)" font-size="22" textLength="146" lengthAdjust="spacingAndGlyphs">Max: 1290 mm</text>
<text x="65.4" y="217.6" font-size="23" textLength="51.8" lengthAdjust="spacingAndGlyphs">360°</text>
<text x="630.4" y="326.5" font-size="16" textLength="81.3" lengthAdjust="spacingAndGlyphs">Max:180°</text>
<text x="644.6" y="522" font-size="18" textLength="89.4" lengthAdjust="spacingAndGlyphs">Max:180°</text>
<text transform="matrix(0.0000 -1.0000 0.9848 0.1736 169.80 666.00)" font-size="21" textLength="138" lengthAdjust="spacingAndGlyphs">775~877 mm</text>
<text transform="matrix(0.0262 -0.9997 0.9848 0.1736 192.30 648.50)" font-size="21" textLength="104" lengthAdjust="spacingAndGlyphs">Per 34mm</text>
<text transform="matrix(0.0000 -1.0000 0.9848 0.1736 225.30 721.50)" font-size="21" textLength="138" lengthAdjust="spacingAndGlyphs">323~425 mm</text>
<text transform="matrix(0.0262 -0.9997 0.9848 0.1736 247.50 702.50)" font-size="21" textLength="102.5" lengthAdjust="spacingAndGlyphs">Per 34mm</text>
<text transform="matrix(0.8704 0.4924 -0.8480 0.5299 345.00 711.20)" font-size="20" textLength="65.2" lengthAdjust="spacingAndGlyphs">340mm</text>
<text transform="matrix(0.8780 -0.4787 0.8090 0.5878 521.25 728.60)" font-size="19" textLength="65.8" lengthAdjust="spacingAndGlyphs">370mm</text>
<text transform="matrix(0.0698 -0.9976 0.9659 0.2588 381.30 269.50)" font-size="18" textLength="27" lengthAdjust="spacingAndGlyphs">75</text>
<text transform="matrix(0.8988 0.4384 0.0000 1.0000 406.30 316.80)" font-size="21.5" textLength="29.8" lengthAdjust="spacingAndGlyphs">100</text>
</g>
</svg>
</body></html>
